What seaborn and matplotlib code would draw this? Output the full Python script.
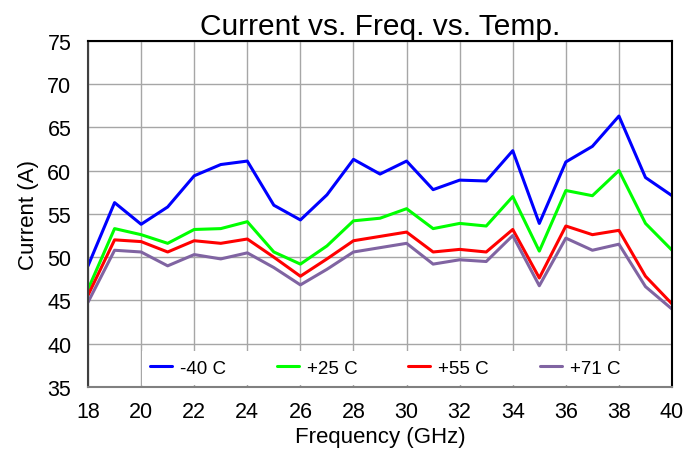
import numpy as np
import pandas as pd
import matplotlib
matplotlib.use("Agg")
import matplotlib.pyplot as plt
import seaborn as sns

freq = list(range(18, 41))
cur_m40 = [49.0, 56.3, 53.8, 55.8, 59.4, 60.7, 61.1, 56.0, 54.3, 57.2, 61.3, 59.6,
           61.1, 57.8, 58.9, 58.8, 62.3, 53.9, 61.0, 62.8, 66.3, 59.2, 57.1]
cur_p25 = [46.3, 53.3, 52.6, 51.6, 53.2, 53.3, 54.1, 50.6, 49.2, 51.3, 54.2, 54.5,
           55.6, 53.3, 53.9, 53.6, 57.0, 50.7, 57.7, 57.1, 60.0, 53.9, 50.8]
cur_p55 = [45.6, 52.0, 51.8, 50.6, 51.9, 51.6, 52.1, 50.0, 47.8, 49.8, 51.9, 52.4,
           52.9, 50.6, 50.9, 50.6, 53.2, 47.6, 53.6, 52.6, 53.1, 47.8, 44.6]
cur_p71 = [44.8, 50.8, 50.6, 49.0, 50.3, 49.8, 50.5, 48.8, 46.8, 48.6, 50.6, 51.1,
           51.6, 49.2, 49.7, 49.5, 52.5, 46.7, 52.2, 50.8, 51.5, 46.6, 44.0]
labels = ["-40 C", "+25 C", "+55 C", "+71 C"]
colors = ["#0000FF", "#00FF00", "#FF0000", "#8064A2"]

df = pd.concat([
    pd.DataFrame({"Frequency": freq, "Current": vals, "Temp": lab})
    for vals, lab in zip([cur_m40, cur_p25, cur_p55, cur_p71], labels)
])

sns.set_style("white")
plt.rcParams["font.family"] = ["Liberation Sans", "DejaVu Sans"]
plt.rcParams["text.color"] = "black"
plt.rcParams["axes.labelcolor"] = "black"
plt.rcParams["xtick.labelcolor"] = "black"
plt.rcParams["ytick.labelcolor"] = "black"

fig = plt.figure(figsize=(6.84, 4.56), dpi=100)
ax = fig.add_axes([0.1287, 0.149, 0.8538, 0.7595])

sns.lineplot(data=df, x="Frequency", y="Current", hue="Temp",
             palette=dict(zip(labels, colors)), linewidth=2.2, ax=ax)

ax.set_xlim(18, 40)
ax.set_ylim(35, 75)
ax.set_xticks(range(18, 41, 2))
ax.set_yticks(range(35, 76, 5))
ax.grid(True, color="#a6a6a6", linewidth=1)
ax.set_axisbelow(True)
ax.tick_params(axis="y", labelsize=15.5, length=0, pad=12, labelcolor="black")
ax.tick_params(axis="x", labelsize=15.5, direction="in", length=4,
               color="#a6a6a6", width=1, pad=10, labelcolor="black")
ax.set_xlabel("Frequency (GHz)", fontsize=16, labelpad=3, color="black")
ax.set_ylabel("Current (A)", fontsize=16, labelpad=6, color="black")
ax.set_title("Current vs. Freq. vs. Temp.", fontsize=21.5, pad=5, color="black")

for s in ["top", "right", "left"]:
    ax.spines[s].set_color("black")
    ax.spines[s].set_linewidth(1.5)
ax.spines["left"].set_color("#404040")
ax.spines["bottom"].set_color("#808080")
ax.spines["bottom"].set_linewidth(1.5)

ax.legend(loc="center", bbox_to_anchor=(0.509, 0.055), ncol=4, frameon=True,
          fontsize=13.5, handlelength=1.17, columnspacing=2.7, handletextpad=0.43,
          borderpad=0.45, fancybox=False, labelcolor="black")
leg = ax.get_legend()
leg.get_frame().set_facecolor("white")
leg.get_frame().set_alpha(1)
leg.get_frame().set_edgecolor("none")

fig.savefig("out.png", dpi=100)
